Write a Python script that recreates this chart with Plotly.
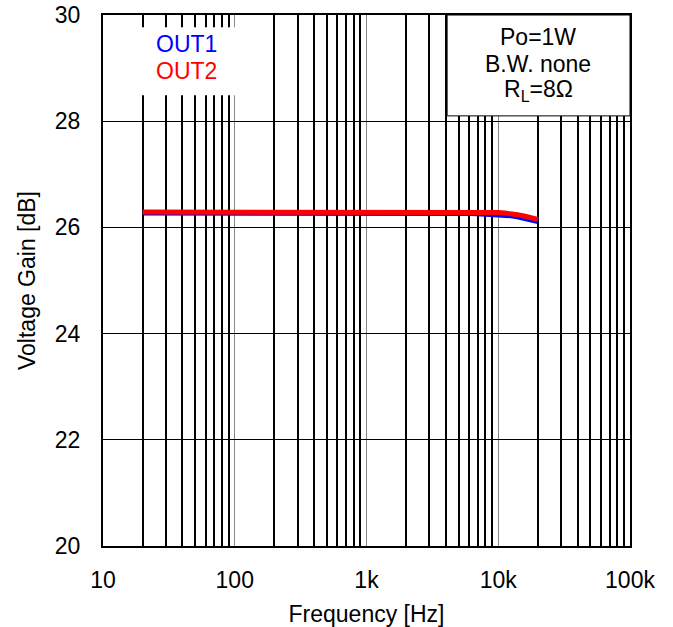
import plotly.graph_objects as go

freq = [20, 25, 31.5, 40, 50, 63, 80, 100, 125, 160, 200, 250, 315, 400, 500, 630, 800,
        1000, 1250, 1600, 2000, 2500, 3150, 4000, 5000, 6300, 8000, 10000, 11200, 12500,
        14000, 16000, 18000, 20000]
out1 = [26.27, 26.27, 26.27, 26.27, 26.27, 26.28, 26.28, 26.28, 26.28, 26.28, 26.28, 26.28,
        26.28, 26.28, 26.28, 26.28, 26.28, 26.28, 26.28, 26.28, 26.28, 26.28, 26.28, 26.27,
        26.27, 26.26, 26.25, 26.24, 26.23, 26.22, 26.20, 26.17, 26.14, 26.11]
out2 = [26.29, 26.29, 26.29, 26.29, 26.29, 26.30, 26.30, 26.30, 26.30, 26.30, 26.30, 26.30,
        26.30, 26.30, 26.30, 26.30, 26.30, 26.30, 26.30, 26.30, 26.30, 26.30, 26.30, 26.30,
        26.29, 26.29, 26.28, 26.28, 26.27, 26.26, 26.24, 26.21, 26.18, 26.15]

x_ticks = [10, 100, 1000, 10000, 100000]
x_ticktext = ["10", "100", "1k", "10k", "100k"]
x_minor = [m * d for d in (10, 100, 1000, 10000) for m in range(2, 10)]
y_ticks = [20, 22, 24, 26, 28, 30]
cond_lines = ["Po=1W", "B.W. none", "R<sub>L</sub>=8Ω"]

FONT = "Liberation Sans, Arial, sans-serif"
FS = 23

fig = go.Figure()
fig.add_trace(go.Scatter(x=freq, y=out1, mode="lines", name="OUT1",
                         line=dict(color="#0000FF", width=5)))
fig.add_trace(go.Scatter(x=freq, y=out2, mode="lines", name="OUT2",
                         line=dict(color="#FF0000", width=5)))

# white legend box and condition box (cover grid)
fig.add_shape(type="rect", xref="x domain", yref="y domain", x0=0.003, x1=0.26, y0=0.849, y1=0.977,
              fillcolor="white", line=dict(width=0), layer="above")
fig.add_shape(type="rect", xref="x domain", yref="y domain", x0=0.653, x1=1.0, y0=0.81, y1=1.0,
              fillcolor="white", line=dict(color="black", width=1), layer="above")

fig.add_annotation(xref="x domain", yref="y domain", x=0.158, y=0.945, text="OUT1",
                   xanchor="center", yanchor="middle",
                   showarrow=False, font=dict(color="#0000FF", size=FS, family=FONT))
fig.add_annotation(xref="x domain", yref="y domain", x=0.158, y=0.894, text="OUT2",
                   xanchor="center", yanchor="middle",
                   showarrow=False, font=dict(color="#FF0000", size=FS, family=FONT))
for txt, yy in zip(cond_lines, [0.9586, 0.9077, 0.8569]):
    fig.add_annotation(xref="x domain", yref="y domain", x=0.826, y=yy, text=txt,
                       xanchor="center", yanchor="middle",
                       showarrow=False, align="center",
                       font=dict(color="black", size=FS, family=FONT))

fig.update_layout(
    width=673, height=627,
    margin=dict(l=103, r=43, t=15, b=81, autoexpand=False),
    paper_bgcolor="white", plot_bgcolor="white",
    showlegend=False,
    font=dict(family=FONT, size=FS, color="black"),
)
fig.update_xaxes(
    type="log", range=[1, 5],
    tickmode="array", tickvals=x_ticks, ticktext=x_ticktext,
    showgrid=True, gridcolor="#888888", gridwidth=1,
    minor=dict(tickmode="array", tickvals=x_minor, showgrid=True, gridcolor="black", gridwidth=2),
    showline=True, linecolor="black", linewidth=2, mirror=True,
    ticks="", ticklabelstandoff=12, ticklabeloverflow="allow",
    title=dict(text="Frequency [Hz]", font=dict(size=FS), standoff=14),
    zeroline=False,
)
fig.update_yaxes(
    range=[20, 30], tickmode="array", tickvals=y_ticks,
    showgrid=True, gridcolor="black", gridwidth=1,
    showline=True, linecolor="black", linewidth=2, mirror=True,
    ticks="", ticklabelstandoff=16, ticklabeloverflow="allow",
    title=dict(text="Voltage Gain [dB]", font=dict(size=FS), standoff=13),
    zeroline=False,
)

fig.write_html("out.html", config={"displayModeBar": False},
               post_script="document.body.style.margin='0';")
